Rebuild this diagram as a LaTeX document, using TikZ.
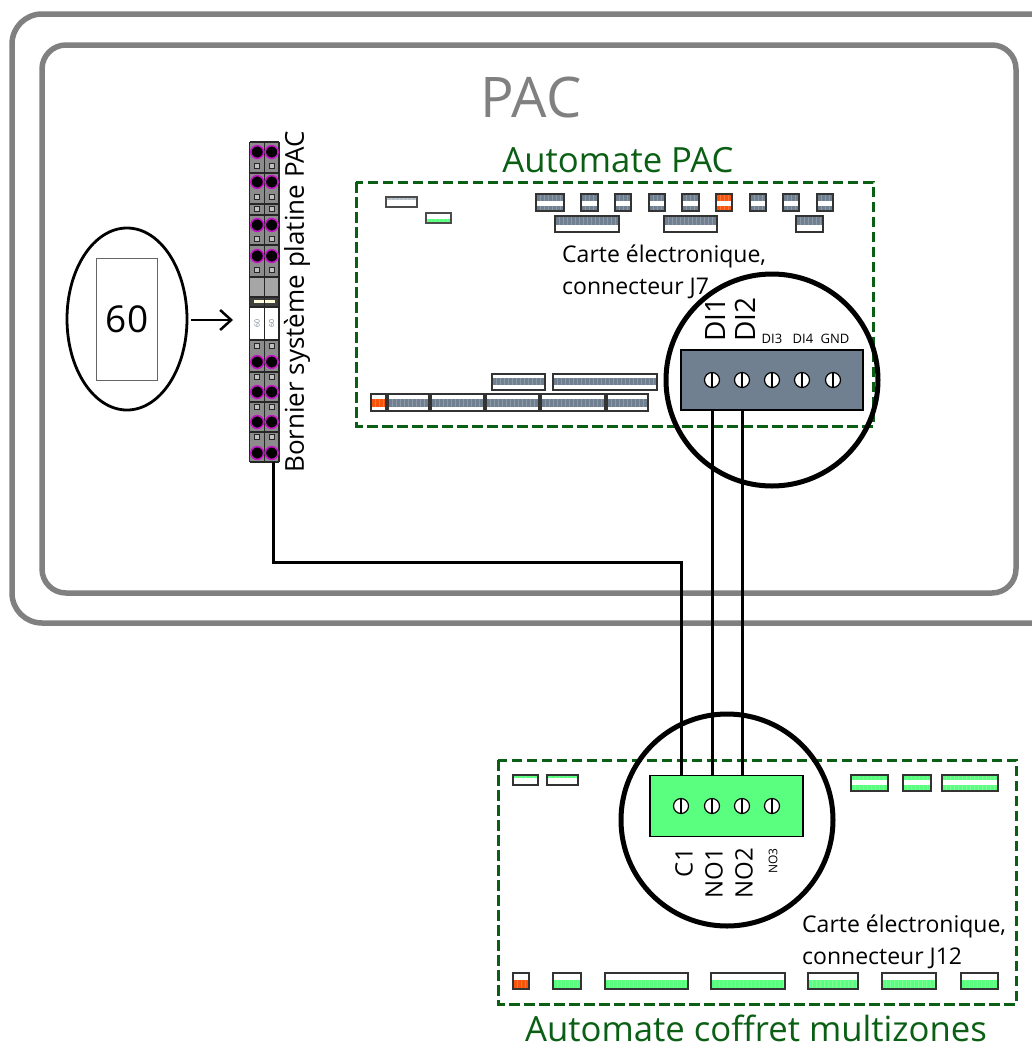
\documentclass[tikz,border=0pt]{standalone}
\usepackage{fontspec}
\setmainfont{Open Sans}
\usetikzlibrary{arrows.meta}
\usetikzlibrary{shapes.geometric}
\definecolor{grisbord}{RGB}{128,128,128}
\definecolor{vertauto}{RGB}{10,95,20}
\definecolor{ardoise}{RGB}{112,128,144}
\definecolor{vertvif}{RGB}{90,255,128}
\definecolor{orange}{RGB}{250,85,10}
\definecolor{violet}{RGB}{200,20,200}
\tikzset{
  cadre/.style={draw=grisbord,line width=5.5pt,rounded corners=#1},
  automate/.style={draw=vertauto,line width=3pt,dash pattern=on 10.5pt off 4.5pt},
  loupe/.style={circle,draw=black,line width=5pt,minimum size=212pt,inner sep=0pt},
  fil/.style={draw=black,line width=3pt},
  vis/.style={circle,draw=black,line width=1.2pt,fill=white,minimum size=15pt,inner sep=0pt,
    path picture={\fill[black] ([xshift=-1.3pt]path picture bounding box.south) rectangle ([xshift=1.3pt]path picture bounding box.north);}},
  titre/.style={text=vertauto,inner sep=0pt,font=\fontsize{34.7}{36}\selectfont},
  legende/.style={align=left,anchor=north west,inner sep=0pt,font=\fontsize{23}{31.5}\selectfont},
  repere/.style={rotate=90,anchor=east,inner sep=0pt,font=\fontsize{24}{24}\selectfont},
  petit/.style={inner sep=0pt,font=\fontsize{13}{13}\selectfont}
}
% xa xb ya yb couleur : a band across a small connector
\newcommand\bande[5]{
  \fill[#5] (#1,#3) rectangle (#2,#4);
  \draw[white,opacity=.2,line width=\the\dimexpr#4pt-#3pt\relax,dash pattern=on .8pt off 3.2pt]
    (#1,#3/2+#4/2) -- (#2,#3/2+#4/2);
}
\begin{document}
\begin{tikzpicture}[x=1pt,y=-1pt]
\useasboundingbox (0,0) rectangle (1032,1045);
\begin{scope}
\clip (0,0) rectangle (1032,1045);

\draw[cadre=30pt] (12,14) rectangle (1064,623);
\draw[cadre=24pt] (42,45) rectangle (1016,593);
\node[text=grisbord,font=\fontsize{56}{56}\selectfont] (pac) at (531,97) {PAC};

% automate PAC
\node[titre] (autopac) at (618,160) {Automate PAC};
\draw[automate] (356,182) rectangle (873,426);
\node[legende] (cartepac) at (562,245) {Carte électronique,\\connecteur J7};

\draw[black!70,fill=white,line width=1.3pt] (386,197) rectangle (417,207);
\bande{387}{416}{198}{200}{ardoise!50}
\draw[black!70,fill=white,line width=1.3pt] (426,213) rectangle (451,223);
\bande{427}{450}{219}{222}{vertvif}
\foreach \xa/\xb/\coul in {536/564/ardoise,581/598/ardoise,615/631/ardoise,649/665/ardoise,682/699/ardoise,716/732/orange,750/766/ardoise,783/799/ardoise,817/833/ardoise} {
  \fill[white] (\xa,194) rectangle (\xb,211);
  \bande{\xa}{\xb}{195}{201}{\coul}
  \bande{\xa}{\xb}{206}{210}{\coul}
  \draw[black!80,line width=1.3pt] (\xa,194) rectangle (\xb,211);
}
\foreach \xa/\xb in {555/619,664/717,796/823} {
  \fill[white] (\xa,216) rectangle (\xb,232);
  \bande{\xa}{\xb}{217}{225}{ardoise}
  \draw[black!80,line width=1.3pt] (\xa,216) rectangle (\xb,232);
}
\foreach \xa/\xb in {492/545,553/657} {
  \fill[white] (\xa,374) rectangle (\xb,390);
  \bande{\xa}{\xb}{378}{385}{ardoise}
  \draw[black!80,line width=1.3pt] (\xa,374) rectangle (\xb,390);
}
\foreach \xa/\xb/\coul in {371/386/orange,388/429/ardoise,431/484/ardoise,486/539/ardoise,541/605/ardoise,607/648/ardoise} {
  \fill[white] (\xa,394) rectangle (\xb,411);
  \bande{\xa}{\xb}{399}{407}{\coul}
  \draw[black!80,line width=1.3pt] (\xa,394) rectangle (\xb,411);
}

% automate coffret
\node[titre] (automz) at (756,1028) {Automate coffret multizones};
\draw[automate] (498,760) rectangle (1016,1004);
\node[legende] (cartemz) at (802,915) {Carte électronique,\\connecteur J12};
\foreach \xa/\xb in {513/538,547/578} {
  \fill[white] (\xa,775) rectangle (\xb,785);
  \bande{\xa}{\xb}{776}{778}{vertvif}
  \draw[black!80,line width=1.3pt] (\xa,775) rectangle (\xb,785);
}
\foreach \xa/\xb in {851/888,903/931,942/998} {
  \fill[white] (\xa,775) rectangle (\xb,791);
  \bande{\xa}{\xb}{776}{780}{vertvif}
  \bande{\xa}{\xb}{785}{790}{vertvif}
  \draw[black!80,line width=1.3pt] (\xa,775) rectangle (\xb,791);
}
\foreach \xa/\xb/\coul in {513/529/orange,553/581/vertvif,605/688/vertvif,711/785/vertvif,808/858/vertvif,882/936/vertvif,961/998/vertvif} {
  \fill[white] (\xa,973) rectangle (\xb,989);
  \bande{\xa}{\xb}{980}{988}{\coul}
  \draw[black!80,line width=1.3pt] (\xa,973) rectangle (\xb,989);
}

% bornier
\fill[black!45] (249.5,142) rectangle (279,462);
\fill[black!35] (249.5,277) rectangle (279,297);
\fill[black!75] (249.5,297) rectangle (279,307);
\fill[yellow!15] (254,300) rectangle (275,303);
\fill[white] (249.5,307) rectangle (279,340);
\foreach \y in {142,173,204,215,245,277,297,307,340,372,402,432,462} {
  \draw[black!85,line width=1.4pt] (249.5,\y) -- (279,\y);
}
\foreach \x in {249.5,264.5,279} {
  \draw[black!85,line width=1.4pt] (\x,142) -- (\x,462);
}
\foreach \x in {257.2,271.7} {
  \foreach \y in {166,197,209,239,270,346,377,407,437} {
    \draw[black!85,fill=black!25,line width=.9pt] (\x-2.5,\y-2.5) rectangle (\x+2.5,\y+2.5);
  }
  \foreach \y in {152,182,225,256,362,392,422,453} {
    \fill[black,draw=violet,line width=1.6pt] (\x,\y) circle (6.4);
  }
  \node[rotate=90,text=ardoise,inner sep=0pt,font=\fontsize{7}{7}\selectfont] at (\x,323) {60};
}
\node[rotate=90,anchor=west,inner sep=0pt,font=\fontsize{26}{26}\selectfont] (bornier) at (297,473) {Bornier système platine PAC};

% repere 60
\node[ellipse,draw=black,line width=2.8pt,minimum width=120pt,minimum height=182pt] (repere60) at (127,319) {};
\node[draw=black!60,line width=.8pt,minimum width=61pt,minimum height=122pt,inner sep=0pt,font=\fontsize{37}{37}\selectfont] (etiq60) at (127,319) {60};
\coordinate (bornierent) at (233,320);
\draw[black,line width=2.5pt,-{Straight Barb[length=11pt,width=20pt]}] (repere60.east |- bornierent) ++(3,0) -- (bornierent);

% connecteurs
\node[draw=black,line width=1.4pt,fill=ardoise,minimum width=182pt,minimum height=60pt,inner sep=0pt] (conpac) at (772,380) {};
\node[vis] (di1) at (712,380) {};
\node[vis] (di2) at (742,380) {};
\node[vis] (di3) at (772,380) {};
\node[vis] (di4) at (802,380) {};
\node[vis] (gnd) at (833,380) {};
\node[repere,anchor=west,font=\fontsize{28}{28}\selectfont] (ldi1) at (715,342) {DI1};
\node[repere,anchor=west,font=\fontsize{28}{28}\selectfont] (ldi2) at (745,342) {DI2};
\node[petit] (ldi3) at (772,339) {DI3};
\node[petit] (ldi4) at (803,339) {DI4};
\node[petit] (lgnd) at (835,339) {GND};
\node[loupe] (loupepac) at (772,380) {};

\node[draw=black,line width=1.4pt,fill=vertvif,minimum width=153pt,minimum height=61pt,inner sep=0pt] (conmz) at (726.5,806) {};
\node[vis] (c1) at (681,806) {};
\node[vis] (no1) at (712,806) {};
\node[vis] (no2) at (742,806) {};
\node[vis] (no3) at (772,806) {};
\node[repere] (lc1) at (684,848) {C1};
\node[repere] (lno1) at (714,848) {NO1};
\node[repere] (lno2) at (744,848) {NO2};
\node[repere,font=\fontsize{12}{12}\selectfont] (lno3) at (773,848) {NO3};
\node[loupe] (loupemz) at (727,820) {};

% fils
\coordinate (piedbornier) at (273,462);
\coordinate (coude) at (681,562);
\draw[fil] (piedbornier) |- (coude) -- (c1 |- conmz.north);
\draw[fil] (di1 |- conpac.south) -- (no1 |- conmz.north);
\draw[fil] (di2 |- conpac.south) -- (no2 |- conmz.north);
\end{scope}
\end{tikzpicture}
\end{document}
